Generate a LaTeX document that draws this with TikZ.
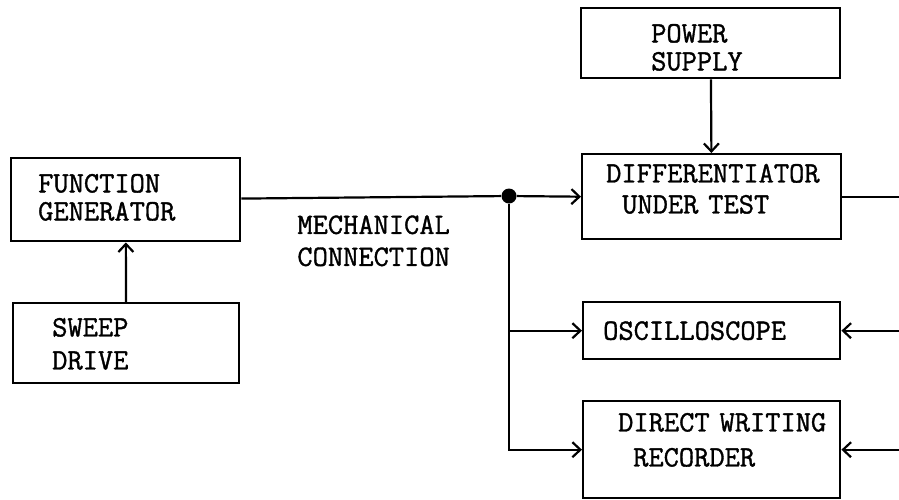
\documentclass[tikz,border=0pt]{standalone}
\usepackage{fontspec}
\usepackage{tikz}
\usetikzlibrary{arrows.meta,positioning,calc}

\newfontfamily\tyfam{Latin Modern Mono}[FakeBold=1.2]
\newcommand{\tyfont}{\fontsize{14.8}{14}\selectfont\tyfam}

\begin{document}
\begin{tikzpicture}[
  x=0.5pt, y=-0.5pt,
  box/.style={rectangle, draw, line width=1.2pt, anchor=north west, align=left, font=\tyfont, inner ysep=0pt},
  arr/.style={-{Straight Barb[length=4pt, width=7.5pt, line width=1.1pt]}, line width=1.1pt},
  wire/.style={line width=1.1pt},
  lbl/.style={font=\tyfont, align=left, anchor=north west, inner sep=0pt},
]
\useasboundingbox (0,0) rectangle (899,499);
% left column
\node[box, minimum width=114.5pt, minimum height=41.5pt, inner xsep=13.5pt, text width=87.5pt, text depth=16.5pt] (fgen) at (10,157) {FUNCTION\\GENERATOR};
\node[box, minimum width=113pt, minimum height=40pt, inner xsep=19.5pt, text width=74pt, text depth=16pt] (sweep) at (12,302) {SWEEP\\[2.5pt]DRIVE};
\node[lbl] (mech) at (297,215) {MECHANICAL\\[2pt]CONNECTION};
% right column
\node[box, minimum width=129.5pt, minimum height=35pt, inner xsep=35pt, text width=59.5pt, text depth=10pt] (power) at (580,7) {POWER\\SUPPLY};
\node[box, minimum width=129.5pt, minimum height=42.5pt, inner xsep=12pt, text width=105.5pt, text depth=23.5pt] (diff) at (581,153) {DIFFERENTIATOR\\[1.5pt]\hspace*{8pt}\mbox{UNDER TEST}};
\node[box, minimum width=128.5pt, minimum height=28.5pt, inner xsep=10pt, text width=108.5pt] (scope) at (582,301) {OSCILLOSCOPE};
\node[box, minimum width=128.5pt, minimum height=48.5pt, inner xsep=17.5pt, text width=93.5pt, text depth=27.5pt] (recorder) at (582,400) {\mbox{DIRECT WRITING}\\[3.5pt]\hspace*{7.5pt}RECORDER};
% junction and page edge
\node[circle, fill, inner sep=0pt, minimum size=7.5pt] (jn) at (509,196) {};
\coordinate (edge) at (899,0);
\draw[arr] (sweep) -- (fgen);
\draw[wire] (fgen) -- (jn);
\draw[arr] (jn) -- (diff.west);
\draw[arr] (jn) |- (scope.west);
\draw[arr] (jn) |- (recorder.west);
\draw[arr] (power) -- (diff);
\draw[wire] (diff.east) -- (diff.east -| edge);
\draw[arr] (scope.east -| edge) -- (scope.east);
\draw[arr] (recorder.east -| edge) -- (recorder.east);
\end{tikzpicture}
\end{document}
